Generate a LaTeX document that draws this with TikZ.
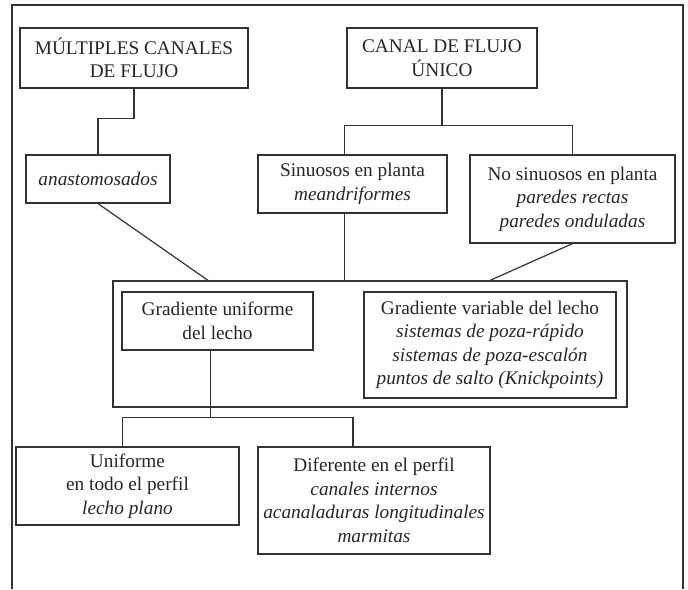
\documentclass[tikz,border=0pt]{standalone}
\usepackage{fontspec}
\setmainfont{Liberation Serif}

\begin{document}
\begin{tikzpicture}[
    x=1pt, y=-1pt, line width=1.2pt, draw=black!80,
    font=\fontsize{19.3}{23.5}\selectfont,
    box node/.style={rectangle, draw=black!80, align=center, inner sep=1pt,
        text=black!85},
    line/.style={draw=black!80, line width=1.2pt}
]
    \useasboundingbox (0,0) rectangle (688,589);
    \draw[line] (12,589) -- (12,5) -- (683,5) -- (683,589);

    \node[box node, minimum width=228, minimum height=60] (multi) at (134,58)
        {MÚLTIPLES CANALES\\DE FLUJO};
    \node[box node, minimum width=190, minimum height=60] (canal) at (442,58)
        {CANAL DE FLUJO\\ÚNICO};
    \node[box node, minimum width=144, minimum height=48] (anast) at (98,179)
        {\itshape anastomosados};
    \node[box node, minimum width=189, minimum height=58] (sinu) at (352.5,184)
        {Sinuosos en planta\\\itshape meandriformes};
    \node[box node, minimum width=205, minimum height=88] (nosin) at (572.5,199)
        {No sinuosos en planta\\\itshape paredes rectas\\\itshape paredes onduladas};
    \node[box node, minimum width=514, minimum height=126] (grad) at (370,344) {};
    \node[box node, minimum width=191, minimum height=58] (gunif) at (217.5,321)
        {Gradiente uniforme\\del lecho};
    \node[box node, minimum width=252, minimum height=106] (gvar) at (490,345)
        {Gradiente variable del lecho\\\itshape sistemas de poza-rápido\\
         \itshape sistemas de poza-escalón\\\itshape puntos de salto (Knickpoints)};
    \node[box node, minimum width=223, minimum height=78] (unif) at (127.5,486)
        {Uniforme\\en todo el perfil\\\itshape lecho plano};
    \node[box node, minimum width=232, minimum height=107] (dif) at (374,500.5)
        {Diferente en el perfil\\\itshape canales internos\\
         \itshape acanaladuras longitudinales\\\itshape marmitas};

    \draw[line] (multi.south) -- ++(0,30) -| (anast.north);
    \draw[line] (canal.south) -- ++(0,37) coordinate (cj);
    \draw[line] ([xshift=-8pt]sinu.north) |- (cj) -| (nosin.north);
    \draw[line] ([xshift=-8pt]sinu.south) -- ([xshift=-8pt]sinu.south |- grad.north);
    \draw[line] (anast.south) -- ([xshift=-162pt]grad.north);
    \draw[line] (nosin.south) -- ([xshift=120pt]grad.north);
    \draw[line] ([xshift=-7pt]gunif.south) -- ++(0,67) coordinate (bj);
    \draw[line] ([xshift=-5pt]unif.north) |- (bj) -| ([xshift=-21pt]dif.north);
\end{tikzpicture}
\end{document}
